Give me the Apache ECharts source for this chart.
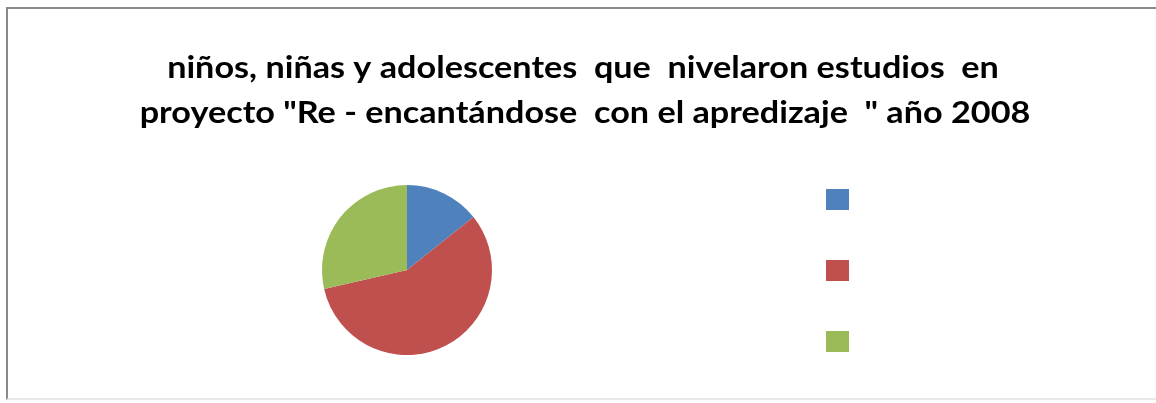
<!DOCTYPE html>
<html>
<head>
<meta charset="utf-8">
<script src="https://cdn.jsdelivr.net/npm/echarts@6/dist/echarts.min.js"></script>
<style>
html,body{margin:0;padding:0;background:#fff;}
#wrap{position:relative;width:1156px;height:403px;overflow:hidden;}
#frame{position:absolute;left:6px;top:7px;width:1200px;height:393px;border:2px solid #8a8a8a;border-bottom-color:#e8e8e8;box-sizing:border-box;}
#chart{position:absolute;left:0;top:0;width:1156px;height:403px;}
</style>
</head>
<body>
<div id="wrap"><div id="frame"></div><div id="chart"></div></div>
<script>
// Data (legend labels are blank in the reference)
const categories = [' ', '  ', '   '];
const values = [1, 4, 2];
const colors = ['#4F81BD', '#C0504D', '#9BBB59'];
const titleLines = [
  'niños, niñas y adolescentes  que  nivelaron estudios  en',
  'proyecto "Re - encantándose  con el apredizaje  " año 2008'
];

const chart = echarts.init(document.getElementById('chart'), null, {renderer: 'canvas'});
chart.setOption({
  animation: false,
  backgroundColor: 'transparent',
  color: colors,
  graphic: titleLines.map((t, i) => ({
    type: 'text',
    x: i === 0 ? 583 : 585,
    y: i === 0 ? 68 : 113,
    scaleX: 1.14,
    silent: true,
    style: {
      text: t,
      x: 0, y: 0,
      textAlign: 'center',
      textVerticalAlign: 'middle',
      font: 'bold 30px Lato',
      fill: '#000'
    }
  })),
  legend: {
    orient: 'vertical',
    left: 826,
    top: 189,
    padding: 0,
    itemWidth: 23,
    itemHeight: 21,
    itemGap: 50,
    icon: 'rect',
    formatter: function () { return ''; },
    textStyle: {fontSize: 10},
    data: categories
  },
  series: [{
    type: 'pie',
    center: [407, 270],
    radius: 85,
    startAngle: 90,
    clockwise: true,
    label: {show: false},
    labelLine: {show: false},
    itemStyle: {borderWidth: 0},
    emphasis: {disabled: true},
    data: categories.map((c, i) => ({name: c, value: values[i]}))
  }]
});
</script>
</body>
</html>
